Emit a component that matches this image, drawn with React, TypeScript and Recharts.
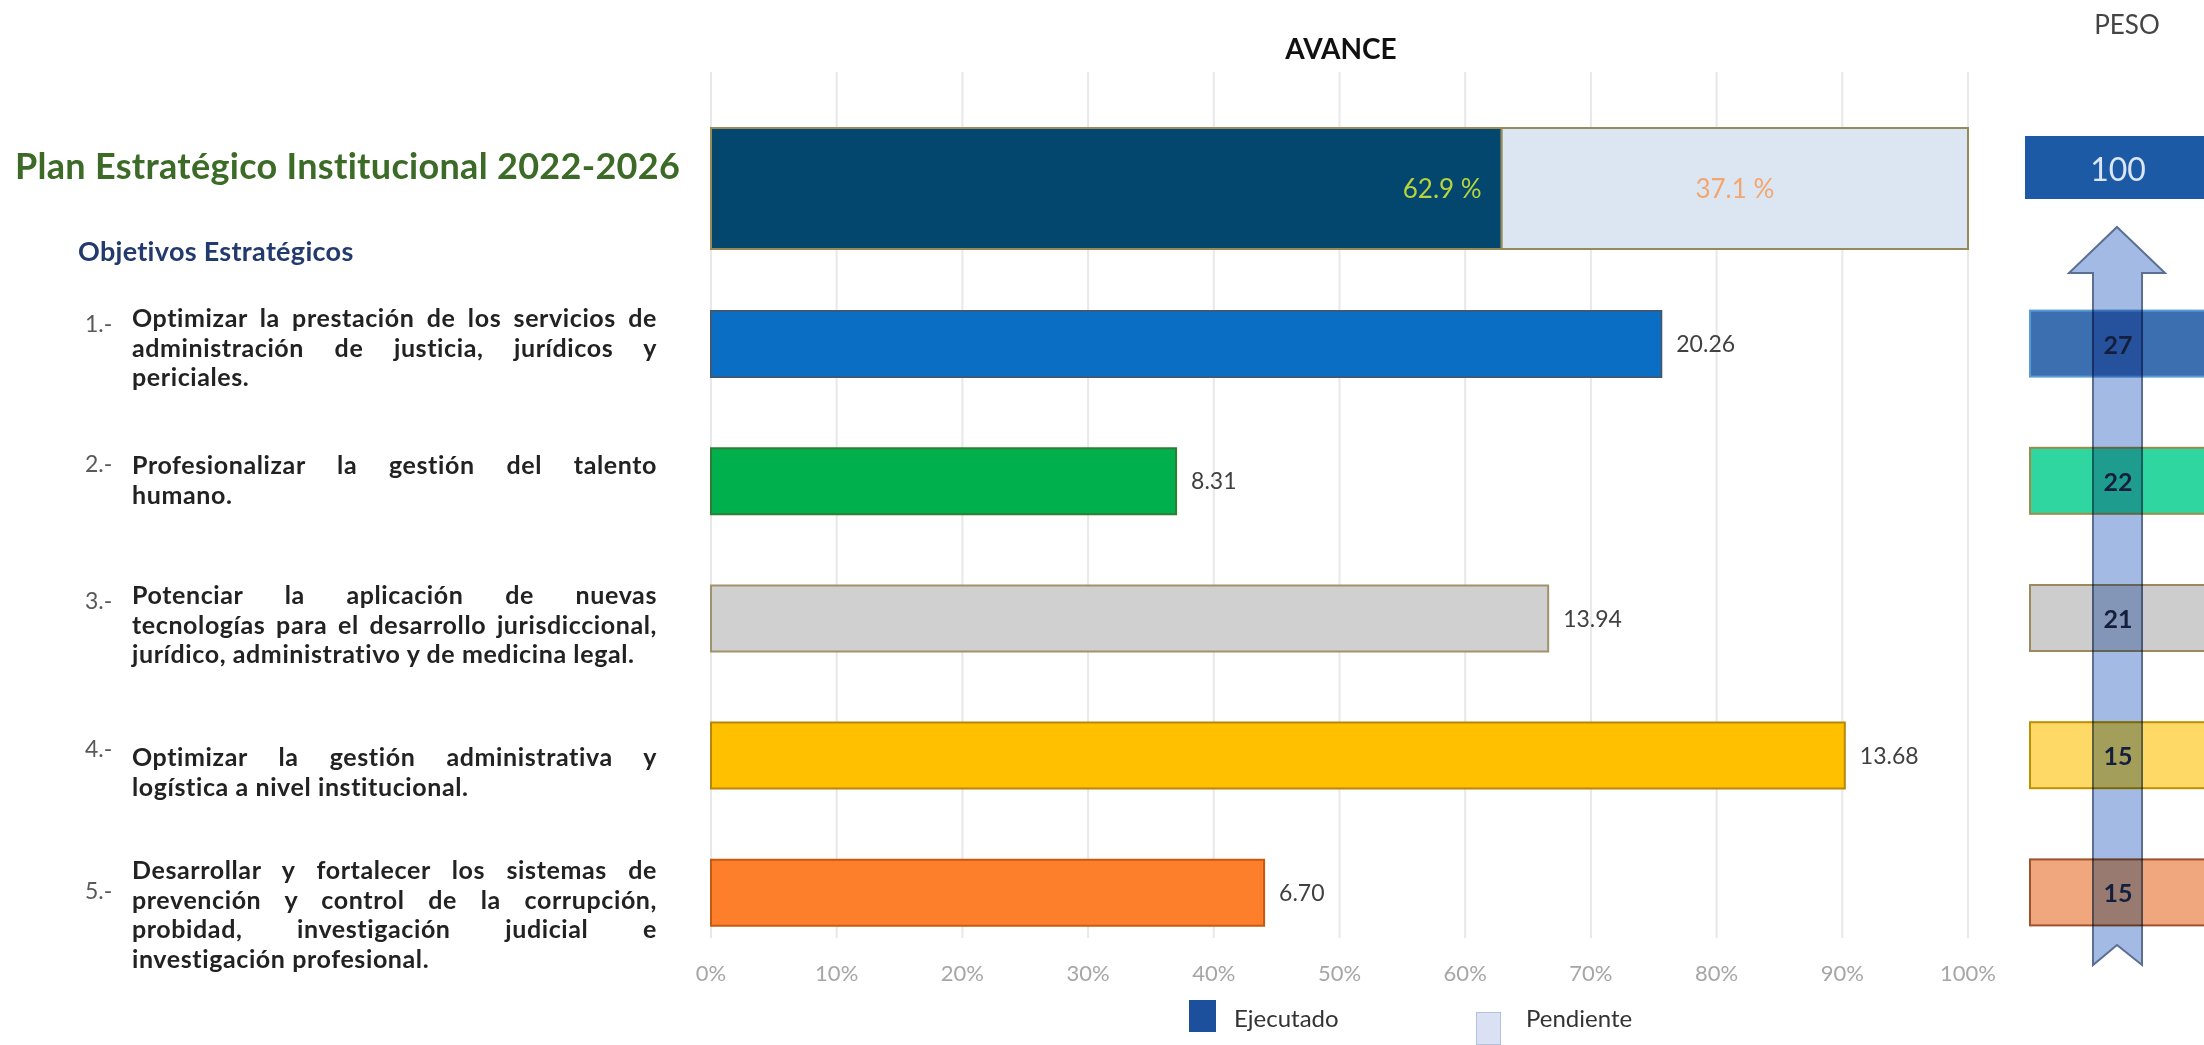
import { BarChart, Bar, XAxis, YAxis, CartesianGrid, LabelList, Cell } from "recharts";

// plan (top bar)
const planName = "Plan";
const planEjecutado = 62.9;
const planPendiente = 37.1;
const planPeso = 100;

// objetivos
const objIds = ["1", "2", "3", "4", "5"];
const avancePct = [75.6, 37.0, 66.6, 90.2, 44.0];
const avanceValor = [20.26, 8.31, 13.94, 13.68, 6.7];
const pesos = [27, 22, 21, 15, 15];

const xTicks = [0, 10, 20, 30, 40, 50, 60, 70, 80, 90, 100];
const legendNames = ["Ejecutado", "Pendiente"];

const objTexts = [
  ["Optimizar la prestación de los servicios de", "administración de justicia, jurídicos y", "periciales."],
  ["Profesionalizar la gestión del talento", "humano."],
  ["Potenciar la aplicación de nuevas", "tecnologías para el desarrollo jurisdiccional,", "jurídico, administrativo y de medicina legal."],
  ["Optimizar la gestión administrativa y", "logística a nivel institucional."],
  ["Desarrollar y fortalecer los sistemas de", "prevención y control de la corrupción,", "probidad, investigación judicial e", "investigación profesional."],
];

// styles
const FONT = "Lato, 'Open Sans', sans-serif";
const barFills = ["#0a6fc4", "#00b04c", "#d0d0d0", "#ffc000", "#fe7f2b"];
const barStrokes = ["#3d5a7a", "#2e7d32", "#a0926c", "#b8860b", "#c55a11"];
const pesoFills = ["#3b6fb0", "#2fd6a0", "#cdcdcd", "#ffd966", "#f0a77e"];
const pesoStrokes = ["#5b9bd5", "#a08a4a", "#9c8a5c", "#bf9000", "#a0522d"];
const legendColors = ["#1c4f9c", "#d9e1f2"];
const textTops = [303, 450, 580, 742, 855];
const numCenters = [323, 463, 600, 748, 890];

const planData = [{ name: planName, ejecutado: planEjecutado, pendiente: planPendiente }];
const objData = objIds.map((id, i) => ({ name: id, avance: avancePct[i], valor: avanceValor[i] }));

function PlanPesoTick(props: any) {
  const { x, y } = props;
  const cy = y - 20;
  return (
    <g>
      <rect x={x + 57} y={cy - 32} width={240} height={63} fill="#1d5aa6" />
      <text x={x + 150} y={cy} textAnchor="middle" dominantBaseline="central" fill="#dae6f4" fontSize={32} fontFamily={FONT}>
        {planPeso}
      </text>
    </g>
  );
}

function ObjPesoTick(props: any) {
  const { x, y, index } = props;
  return (
    <g>
      <rect x={x + 62} y={y - 33} width={240} height={66} fill={pesoFills[index]} stroke={pesoStrokes[index]} strokeWidth={2} />
      <text x={x + 150} y={y} textAnchor="middle" dominantBaseline="central" fill="#1f2a44" fontSize={25} fontWeight={700} fontFamily={FONT}>
        {pesos[index]}
      </text>
    </g>
  );
}

const abs = (left: number, top: number, extra: any = {}) => ({ position: "absolute" as const, left, top, ...extra });

export default function App() {
  return (
    <div style={{ position: "absolute", left: 0, top: 0, width: 2204, height: 1045, overflow: "hidden", background: "#fff", fontFamily: FONT }}>
      {/* left column texts */}
      <div style={abs(15, 165, { transform: "translateY(-50%)", fontSize: 36, letterSpacing: 0.3, fontWeight: 700, color: "#3b6b26", lineHeight: 1, whiteSpace: "nowrap" })}>
        Plan Estratégico Institucional 2022-2026
      </div>
      <div style={abs(78, 250, { transform: "translateY(-50%)", fontSize: 27, letterSpacing: 0.3, fontWeight: 700, color: "#223a6e", lineHeight: 1, whiteSpace: "nowrap" })}>
        Objetivos Estratégicos
      </div>
      {objTexts.map((lines, i) => (
        <div key={i}>
          <div style={abs(85, numCenters[i], { transform: "translateY(-50%)", fontSize: 23, color: "#595959", lineHeight: 1 })}>
            {objIds[i]}.-
          </div>
          <div style={abs(132, textTops[i], { width: 525, fontSize: 25, letterSpacing: 0.6, fontWeight: 700, color: "#222", lineHeight: "29.5px" })}>
            {lines.map((ln, j) => (
              <div key={j} style={{ textAlign: "justify", textAlignLast: j < lines.length - 1 ? "justify" : "left" }}>
                {ln}
              </div>
            ))}
          </div>
        </div>
      ))}

      {/* headers */}
      <div style={abs(1341, 48, { transform: "translate(-50%,-50%)", fontSize: 28, fontWeight: 700, color: "#111", lineHeight: 1 })}>AVANCE</div>
      <div style={abs(2127, 24, { transform: "translate(-50%,-50%)", fontSize: 26, color: "#444", lineHeight: 1 })}>PESO</div>

      {/* top chart: plan */}
      <div style={abs(0, 0)}>
        <BarChart width={2204} height={275} layout="vertical" data={planData} margin={{ top: 101, right: 0, bottom: 0, left: 711 }}>
          <CartesianGrid horizontal={false} y={72} height={203} stroke="#e8e8e8" strokeWidth={2} />
          <XAxis type="number" domain={[0, 100]} ticks={xTicks} hide />
          <YAxis type="category" dataKey="name" orientation="right" width={236} axisLine={false} tickLine={false} tickSize={0} tickMargin={0} tick={(p: any) => <PlanPesoTick {...p} />} />
          <Bar dataKey="ejecutado" stackId="a" fill="#03476f" stroke="#9a8a55" strokeWidth={2} barSize={121} isAnimationActive={false}>
            <LabelList dataKey="ejecutado" position="insideRight" offset={20} formatter={(v: any) => `${v} %`} fill="#b8d43c" fontSize={26} fontFamily={FONT} />
          </Bar>
          <Bar dataKey="pendiente" stackId="a" fill="#dce6f2" stroke="#948a5c" strokeWidth={2} barSize={121} isAnimationActive={false}>
            <LabelList dataKey="pendiente" position="center" formatter={(v: any) => `${v} %`} fill="#f3a56f" fontSize={26} fontFamily={FONT} />
          </Bar>
        </BarChart>
      </div>

      {/* bottom chart: objetivos */}
      <div style={abs(0, 275)}>
        <BarChart width={2204} height={770} layout="vertical" data={objData} margin={{ top: 0, right: 0, bottom: 54, left: 711 }}>
          <CartesianGrid horizontal={false} y={0} height={663} stroke="#e8e8e8" strokeWidth={2} />
          <XAxis
            type="number"
            domain={[0, 100]}
            ticks={xTicks}
            height={30}
            axisLine={false}
            tickLine={false}
            tickSize={0}
            tickMargin={4}
            tickFormatter={(v) => `${v}%`}
            tick={{ fill: "#a6a6a6", fontSize: 22, fontFamily: FONT }}
          />
          <YAxis type="category" dataKey="name" orientation="right" width={236} axisLine={false} tickLine={false} tickSize={0} tickMargin={0} tick={(p: any) => <ObjPesoTick {...p} />} />
          <Bar dataKey="avance" barSize={66} strokeWidth={2} isAnimationActive={false}>
            {objData.map((d, i) => (
              <Cell key={d.name} fill={barFills[i]} stroke={barStrokes[i]} />
            ))}
            <LabelList dataKey="valor" position="right" offset={15} formatter={(v: any) => Number(v).toFixed(2)} fill="#404040" fontSize={23} fontFamily={FONT} />
          </Bar>
        </BarChart>
      </div>

      {/* legend */}
      <div style={abs(1189, 1000, { width: 27, height: 32, background: legendColors[0] })} />
      <div style={abs(1234, 1018, { transform: "translateY(-50%)", fontSize: 24, color: "#333", lineHeight: 1 })}>{legendNames[0]}</div>
      <div style={abs(1476, 1012, { width: 23, height: 31, background: legendColors[1], border: "1px solid #b4c1dd" })} />
      <div style={abs(1526, 1018, { transform: "translateY(-50%)", fontSize: 24, color: "#333", lineHeight: 1 })}>{legendNames[1]}</div>

      {/* peso arrow, multiplied over the weight boxes */}
      <svg width={2204} height={1045} style={{ position: "absolute", left: 0, top: 0, pointerEvents: "none", mixBlendMode: "multiply" }}>
        <path
          d="M2117,227 L2165,273 L2142,273 L2142,965 L2117,945 L2093,965 L2093,273 L2069,273 Z"
          fill="#a3bbe4"
          stroke="#5b6f95"
          strokeWidth={2}
        />
      </svg>
    </div>
  );
}
